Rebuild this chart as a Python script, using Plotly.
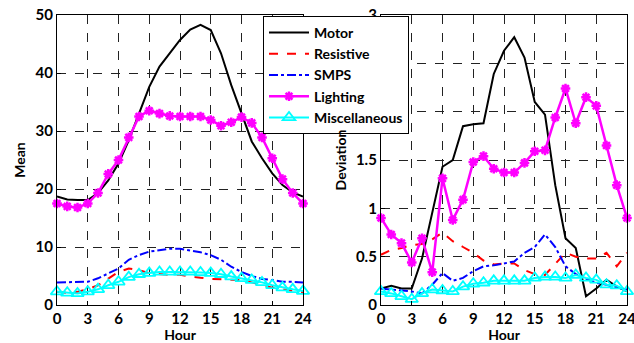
import plotly.graph_objects as go

hours = list(range(25))
series_names = ["Motor", "Resistive", "SMPS", "Lighting", "Miscellaneous"]

mean_motor = [18.7, 18.2, 18.1, 18.1, 19.3, 21.5, 24.4, 28.4, 33.0, 37.6, 41.1, 43.4, 45.7,
              47.5, 48.3, 47.4, 43.4, 37.9, 33.0, 28.2, 25.3, 22.7, 20.7, 19.4, 18.7]
mean_resistive = [2.3, 2.1, 2.3, 2.7, 3.4, 4.6, 5.7, 6.3, 6.0, 5.5, 5.3, 5.2, 5.2,
                  4.9, 4.7, 4.5, 4.4, 4.4, 4.3, 3.9, 3.4, 3.0, 2.7, 2.4, 2.2]
mean_smps = [3.9, 3.9, 4.0, 4.0, 4.6, 5.5, 6.3, 7.8, 8.6, 9.2, 9.5, 9.7, 9.7,
             9.4, 9.1, 8.6, 7.8, 6.6, 5.7, 5.0, 4.5, 4.3, 4.0, 4.0, 3.9]
mean_lighting = [17.5, 17.0, 16.8, 17.5, 19.3, 22.6, 25.0, 28.9, 32.5, 33.5, 33.0, 32.6, 32.5,
                 32.5, 32.5, 31.9, 30.9, 31.5, 32.4, 31.4, 28.9, 25.3, 21.7, 19.3, 17.5]
mean_misc = [2.3, 2.1, 2.0, 2.3, 2.7, 3.4, 4.0, 4.8, 5.3, 5.5, 5.7, 5.7, 5.7,
             5.7, 5.6, 5.5, 5.3, 4.9, 4.6, 4.3, 3.9, 3.4, 3.0, 2.7, 2.4]

dev_motor = [0.17, 0.20, 0.17, 0.17, 0.48, 0.95, 1.43, 1.50, 1.85, 1.87, 1.88, 2.39, 2.63,
             2.77, 2.56, 2.10, 1.97, 1.24, 0.69, 0.59, 0.09, 0.17, 0.26, 0.19, 0.14]
dev_resistive = [0.52, 0.57, 0.59, 0.62, 0.63, 0.68, 0.75, 0.66, 0.60, 0.54, 0.46, 0.42, 0.43,
                 0.43, 0.36, 0.32, 0.31, 0.43, 0.54, 0.50, 0.48, 0.48, 0.54, 0.40, 0.54]
dev_smps = [0.17, 0.16, 0.15, 0.14, 0.12, 0.21, 0.33, 0.25, 0.28, 0.35, 0.40, 0.41, 0.43,
            0.45, 0.54, 0.60, 0.73, 0.60, 0.40, 0.32, 0.27, 0.23, 0.21, 0.18, 0.16]
dev_lighting = [0.90, 0.73, 0.64, 0.44, 0.69, 0.34, 1.31, 0.88, 1.09, 1.48, 1.54, 1.41, 1.37,
                1.37, 1.47, 1.59, 1.60, 1.94, 2.24, 1.88, 2.15, 2.06, 1.65, 1.24, 0.90]
dev_misc = [0.14, 0.12, 0.09, 0.06, 0.12, 0.16, 0.15, 0.14, 0.19, 0.22, 0.23, 0.25, 0.25,
            0.25, 0.25, 0.28, 0.29, 0.29, 0.28, 0.31, 0.28, 0.26, 0.21, 0.20, 0.14]

x_ticks = [0, 3, 6, 9, 12, 15, 18, 21, 24]
mean_ticks = [0, 10, 20, 30, 40, 50]
dev_ticks = [0, 0.5, 1, 1.5, 2, 2.5, 3]
dev_ticklabels = ["0", "0.5", "1", "1.5", "2", "2.5", "3"]

FONT = "Lato"

styles = {
    "Motor": dict(mode="lines", line=dict(color="black", width=2)),
    "Resistive": dict(mode="lines", line=dict(color="#ff0000", width=2, dash="dash")),
    "SMPS": dict(mode="lines", line=dict(color="#0000ff", width=2, dash="dashdot")),
    "Lighting": dict(mode="lines+markers", line=dict(color="#ff00ff", width=2.5),
                     marker=dict(symbol="asterisk-open", size=8, color="#ff00ff",
                                 line=dict(color="#ff00ff", width=2.5))),
    "Miscellaneous": dict(mode="lines+markers", line=dict(color="#00ffff", width=2),
                          marker=dict(symbol="triangle-up-open", size=11, color="#00ffff",
                                      line=dict(color="#00ffff", width=1.8))),
}

mean_data = [mean_motor, mean_resistive, mean_smps, mean_lighting, mean_misc]
dev_data = [dev_motor, dev_resistive, dev_smps, dev_lighting, dev_misc]

fig = go.Figure()
for name, ys in zip(series_names, mean_data):
    fig.add_trace(go.Scatter(x=hours, y=ys, name=name, xaxis="x", yaxis="y",
                             cliponaxis=False, showlegend=True, **styles[name]))
for name, ys in zip(series_names, dev_data):
    fig.add_trace(go.Scatter(x=hours, y=ys, name=name, xaxis="x2", yaxis="y2",
                             cliponaxis=False, showlegend=False, **styles[name]))

W, H = 634, 343
ydom = [1 - 305 / H, 1 - 15 / H]
tickfont = dict(family=FONT, size=15, color="black", weight="bold")
titlefont = dict(family=FONT, size=14, color="black", weight="bold")

common_x = dict(range=[0, 24], tickvals=x_ticks, showline=True, mirror=True,
                linecolor="black", linewidth=1.2, showgrid=True, gridcolor="#222",
                griddash="dash", gridwidth=1, zeroline=False, ticks="inside",
                ticklen=4, tickcolor="black", tickfont=tickfont, automargin=False,
                ticklabeloverflow="allow",
                title=dict(text="Hour", font=titlefont, standoff=2))
common_y = dict(showline=True, mirror=True, linecolor="black", linewidth=1.2,
                showgrid=True, gridcolor="#222", griddash="dash", gridwidth=1,
                zeroline=False, ticks="inside", ticklen=4, tickcolor="black",
                tickfont=tickfont, automargin=False, ticklabeloverflow="allow")

fig.update_layout(
    width=W, height=H,
    margin=dict(l=0, r=0, t=0, b=0),
    paper_bgcolor="white", plot_bgcolor="white",
    xaxis=dict(domain=[57 / W, 303 / W], anchor="y", **common_x),
    yaxis=dict(domain=ydom, anchor="x", range=[0, 50], tickvals=mean_ticks,
               title=dict(text="Mean", font=titlefont, standoff=6), **common_y),
    xaxis2=dict(domain=[381 / W, 627 / W], anchor="y2", **common_x),
    yaxis2=dict(domain=ydom, anchor="x2", range=[0, 3], tickvals=dev_ticks,
                ticktext=dev_ticklabels,
                title=dict(text="Deviation", font=titlefont, standoff=6), **common_y),
    legend=dict(x=263 / W, y=1 - 16 / H, xanchor="left", yanchor="top",
                bgcolor="white", bordercolor="black", borderwidth=1,
                font=dict(family=FONT, size=14, color="black", weight="bold"),
                tracegroupgap=0, itemwidth=40),
    showlegend=True,
)

fig.write_html("out.html")
